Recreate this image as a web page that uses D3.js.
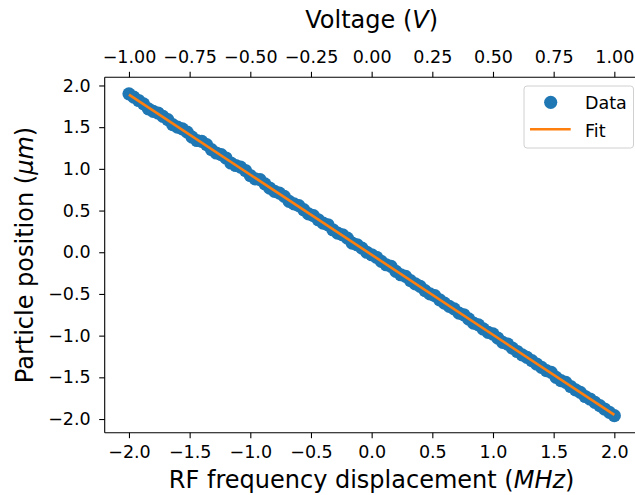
<!DOCTYPE html>
<html>
<head>
<meta charset="utf-8">
<script src="https://cdn.jsdelivr.net/npm/d3@7.9.0/dist/d3.min.js"></script>
<style>
  body { margin: 0; background: #fff; }
  svg { display: block; font-family: "DejaVu Sans", sans-serif; }
</style>
</head>
<body>
<div id="chart"></div>
<script>
// RF frequency displacement (MHz) and particle position (um)
const freq = [
  -2.00, -1.96, -1.92, -1.88, -1.84, -1.80, -1.76, -1.72, -1.68, -1.64,
  -1.60, -1.56, -1.52, -1.48, -1.44, -1.40, -1.36, -1.32, -1.28, -1.24,
  -1.20, -1.16, -1.12, -1.08, -1.04, -1.00, -0.96, -0.92, -0.88, -0.84,
  -0.80, -0.76, -0.72, -0.68, -0.64, -0.60, -0.56, -0.52, -0.48, -0.44,
  -0.40, -0.36, -0.32, -0.28, -0.24, -0.20, -0.16, -0.12, -0.08, -0.04,
  0.00, 0.04, 0.08, 0.12, 0.16, 0.20, 0.24, 0.28, 0.32, 0.36,
  0.40, 0.44, 0.48, 0.52, 0.56, 0.60, 0.64, 0.68, 0.72, 0.76,
  0.80, 0.84, 0.88, 0.92, 0.96, 1.00, 1.04, 1.08, 1.12, 1.16,
  1.20, 1.24, 1.28, 1.32, 1.36, 1.40, 1.44, 1.48, 1.52, 1.56,
  1.60, 1.64, 1.68, 1.72, 1.76, 1.80, 1.84, 1.88, 1.92, 1.96, 2.00
];
const position = [
  1.90, 1.86, 1.82, 1.78, 1.72, 1.69, 1.67, 1.63, 1.59, 1.53,
  1.50, 1.48, 1.44, 1.38, 1.34, 1.33, 1.29, 1.23, 1.19, 1.17,
  1.13, 1.07, 1.04, 1.02, 0.98, 0.92, 0.88, 0.87, 0.82, 0.77,
  0.73, 0.71, 0.67, 0.61, 0.58, 0.56, 0.51, 0.46, 0.44, 0.39,
  0.35, 0.33, 0.27, 0.23, 0.21, 0.17, 0.11, 0.09, 0.05, 0.00,
  -0.03, -0.06, -0.11, -0.15, -0.17, -0.23, -0.27, -0.29, -0.34, -0.38,
  -0.41, -0.46, -0.50, -0.52, -0.57, -0.61, -0.65, -0.68, -0.73, -0.75,
  -0.80, -0.85, -0.87, -0.92, -0.96, -0.98, -1.03, -1.08, -1.10, -1.15,
  -1.19, -1.23, -1.26, -1.30, -1.34, -1.38, -1.42, -1.44, -1.50, -1.54,
  -1.56, -1.61, -1.65, -1.68, -1.73, -1.76, -1.80, -1.84, -1.88, -1.92, -1.96
];
const fitFreq = [-2.0, 2.0];
const fitPosition = [1.89, -1.95];

const freqTicks = [-2.0, -1.5, -1.0, -0.5, 0.0, 0.5, 1.0, 1.5, 2.0];
const voltTicks = [-1.00, -0.75, -0.50, -0.25, 0.00, 0.25, 0.50, 0.75, 1.00];
const posTicks = [-2.0, -1.5, -1.0, -0.5, 0.0, 0.5, 1.0, 1.5, 2.0];

const width = 635;
const height = 495;
const area = { left: 104.7, right: 638.6, top: 77.3, bottom: 432.7 };
const tickFont = '17.5px';

const svg = d3.select('#chart')
  .append('svg')
  .attr('width', width)
  .attr('height', height);

const x = d3.scaleLinear().domain([-2.2, 2.2]).range([area.left, area.right]);
const xTop = d3.scaleLinear().domain([-1.1, 1.1]).range([area.left, area.right]);
const y = d3.scaleLinear().domain([-2.164, 2.098]).range([area.bottom, area.top]);

// data points
const points = freq.map((f, i) => ({ f, p: position[i] }));
svg.append('g')
  .selectAll('circle')
  .data(points)
  .join('circle')
  .attr('cx', (d) => x(d.f))
  .attr('cy', (d) => y(d.p))
  .attr('r', 6.6)
  .attr('fill', '#1f77b4');

// fit line
const line = d3.line().x((d) => x(d[0])).y((d) => y(d[1]));
svg.append('path')
  .datum(fitFreq.map((f, i) => [f, fitPosition[i]]))
  .attr('d', line)
  .attr('fill', 'none')
  .attr('stroke', '#ff7f0e')
  .attr('stroke-width', 2.6);

// style the axis the matplotlib way
function styleAxis(g) {
  g.attr('font-family', null).attr('font-size', null);
  g.selectAll('text')
    .style('font-family', "'DejaVu Sans'")
    .style('font-size', tickFont)
    .attr('fill', '#000');
  g.selectAll('line').attr('stroke', '#000').attr('stroke-width', 1.1);
  g.select('.domain').attr('stroke', '#000').attr('stroke-width', 1.1);
}

// axes
svg.append('g')
  .attr('transform', `translate(0,${area.bottom})`)
  .call(d3.axisBottom(x).tickValues(freqTicks).tickSize(5.5).tickPadding(7)
    .tickFormat(d3.format('.1f')))
  .call((g) => g.select('.domain').attr('d', `M${area.left},0H${area.right}`))
  .call(styleAxis);

svg.append('g')
  .attr('transform', `translate(0,${area.top})`)
  .call(d3.axisTop(xTop).tickValues(voltTicks).tickSize(5.5).tickPadding(9.3)
    .tickFormat(d3.format('.2f')))
  .call((g) => g.select('.domain').attr('d', `M${area.left},0H${area.right}`))
  .call(styleAxis);

svg.append('g')
  .attr('transform', `translate(${area.left},0)`)
  .call(d3.axisLeft(y).tickValues(posTicks).tickSize(5.5).tickPadding(8.5)
    .tickFormat(d3.format('.1f')))
  .call((g) => g.select('.domain').attr('d', `M0,${area.top}V${area.bottom}`))
  .call(styleAxis);

// axis labels
const bottomLabel = svg.append('text')
  .attr('x', (area.left + area.right) / 2)
  .attr('y', 488)
  .attr('text-anchor', 'middle')
  .style('font-size', '24px');
bottomLabel.append('tspan').text('RF frequency displacement (');
bottomLabel.append('tspan').style('font-style', 'italic').text('MHz');
bottomLabel.append('tspan').text(')');

const topLabel = svg.append('text')
  .attr('x', (area.left + area.right) / 2)
  .attr('y', 28)
  .attr('text-anchor', 'middle')
  .style('font-size', '24px');
topLabel.append('tspan').text('Voltage (');
topLabel.append('tspan').style('font-style', 'italic').text('V');
topLabel.append('tspan').text(')');

const leftLabel = svg.append('text')
  .attr('transform', `translate(32.5,${(area.top + area.bottom) / 2}) rotate(-90)`)
  .attr('text-anchor', 'middle')
  .style('font-size', '24px');
leftLabel.append('tspan').text('Particle position (');
leftLabel.append('tspan').style('font-style', 'italic').text('\u03bcm');
leftLabel.append('tspan').text(')');

// legend
const legend = svg.append('g').attr('transform', 'translate(524,86)');
legend.append('rect')
  .attr('width', 109.5)
  .attr('height', 62)
  .attr('rx', 3)
  .attr('fill', '#fff')
  .attr('fill-opacity', 0.8)
  .attr('stroke', '#d0d0d0')
  .attr('stroke-width', 1);
legend.append('circle')
  .attr('cx', 26.7).attr('cy', 16.3).attr('r', 6.6)
  .attr('fill', '#1f77b4');
legend.append('text')
  .attr('x', 61).attr('y', 22.5)
  .style('font-size', tickFont)
  .text('Data');
legend.append('line')
  .attr('x1', 6).attr('x2', 46.7)
  .attr('y1', 43.3).attr('y2', 43.3)
  .attr('stroke', '#ff7f0e')
  .attr('stroke-width', 2.6);
legend.append('text')
  .attr('x', 61).attr('y', 50.7)
  .style('font-size', tickFont)
  .text('Fit');
</script>
</body>
</html>
